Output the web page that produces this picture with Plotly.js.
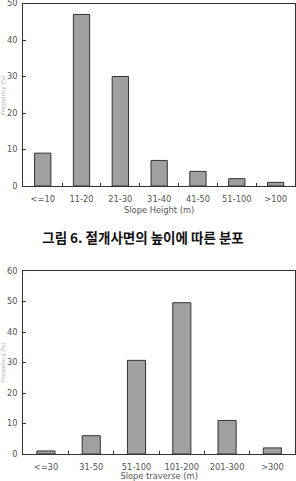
<!DOCTYPE html>
<html>
<head>
<meta charset="utf-8">
<script src="https://cdn.plot.ly/plotly-3.0.1.min.js"></script>
<style>html,body{margin:0;padding:0;background:#fff;}#chart{width:296px;height:481px;}</style>
</head>
<body>
<div id="chart"></div>
<script>
const heightCategories = ["<=10", "11-20", "21-30", "31-40", "41-50", "51-100", ">100"];
const heightValues = [9, 47, 30, 7, 4, 2, 1];
const traverseCategories = ["<=30", "31-50", "51-100", "101-200", "201-300", ">300"];
const traverseValues = [1, 6, 30.7, 49.6, 11, 2];
const titleText = "그림 6. 절개사면의 높이에 따른 분포";
const xTitle1 = "Slope Height (m)";
const xTitle2 = "Slope traverse (m)";
const yTitle = "Frequency (%)";

const tickFont = {family: "DejaVu Sans, sans-serif", size: 8.3, color: "#555"};
const barStyle = {color: "#a0a0a0", line: {color: "#333", width: 1}};

const traces = [
  {type: "bar", x: heightCategories, y: heightValues, xaxis: "x", yaxis: "y", width: 0.42, marker: barStyle, hoverinfo: "x+y"},
  {type: "bar", x: traverseCategories, y: traverseValues, xaxis: "x2", yaxis: "y2", width: 0.40, marker: barStyle, hoverinfo: "x+y"}
];

function xAxis(domain, anchor, title) {
  return {
    domain: domain, anchor: anchor, type: "category",
    showline: true, linecolor: "#333", linewidth: 1, mirror: true,
    ticks: "inside", ticklen: 3, tickcolor: "#333", tickson: "boundaries",
    tickangle: 0,
    tickfont: tickFont, ticklabelstandoff: 5, ticklabeloverflow: "allow",
    showgrid: false, zeroline: false, fixedrange: true,
    title: {text: title, font: tickFont, standoff: 4}
  };
}
function yAxis(domain, anchor, range) {
  return {
    domain: domain, anchor: anchor, range: range, dtick: 10,
    showline: true, linecolor: "#333", linewidth: 1, mirror: true,
    ticks: "inside", ticklen: 3, tickcolor: "#333",
    tickfont: tickFont, ticklabelstandoff: 3, ticklabeloverflow: "allow",
    showgrid: false, zeroline: false, fixedrange: true
  };
}

const layout = {
  width: 296, height: 481,
  margin: {l: 0, r: 0, t: 0, b: 0},
  paper_bgcolor: "#fff", plot_bgcolor: "#fff",
  showlegend: false,
  xaxis: xAxis([23.3/296, 295/296], "y", xTitle1),
  yaxis: yAxis([1 - 186/481, 1 - 3.5/481], "x", [0, 50]),
  xaxis2: xAxis([23.3/296, 295/296], "y2", xTitle2),
  yaxis2: yAxis([1 - 454/481, 1 - 271/481], "x2", [0, 60]),
  title: {
    text: "<b>" + titleText + "</b>",
    font: {family: "Noto Sans CJK KR, sans-serif", size: 13.5, color: "#111"},
    x: 143/296, xanchor: "center", xref: "paper",
    y: 1 - 238/481, yanchor: "middle", yref: "paper"
  },
  annotations: [
    {text: yTitle, textangle: -90, xref: "paper", yref: "paper", x: 3/296, xanchor: "center",
     y: 1 - 95/481, yanchor: "middle", showarrow: false,
     font: {family: "DejaVu Sans, sans-serif", size: 5.5, color: "#aaa"}},
    {text: yTitle, textangle: -90, xref: "paper", yref: "paper", x: 3/296, xanchor: "center",
     y: 1 - 362/481, yanchor: "middle", showarrow: false,
     font: {family: "DejaVu Sans, sans-serif", size: 5.5, color: "#aaa"}}
  ]
};

Plotly.newPlot("chart", traces, layout, {displayModeBar: false, staticPlot: true});
</script>
</body>
</html>
